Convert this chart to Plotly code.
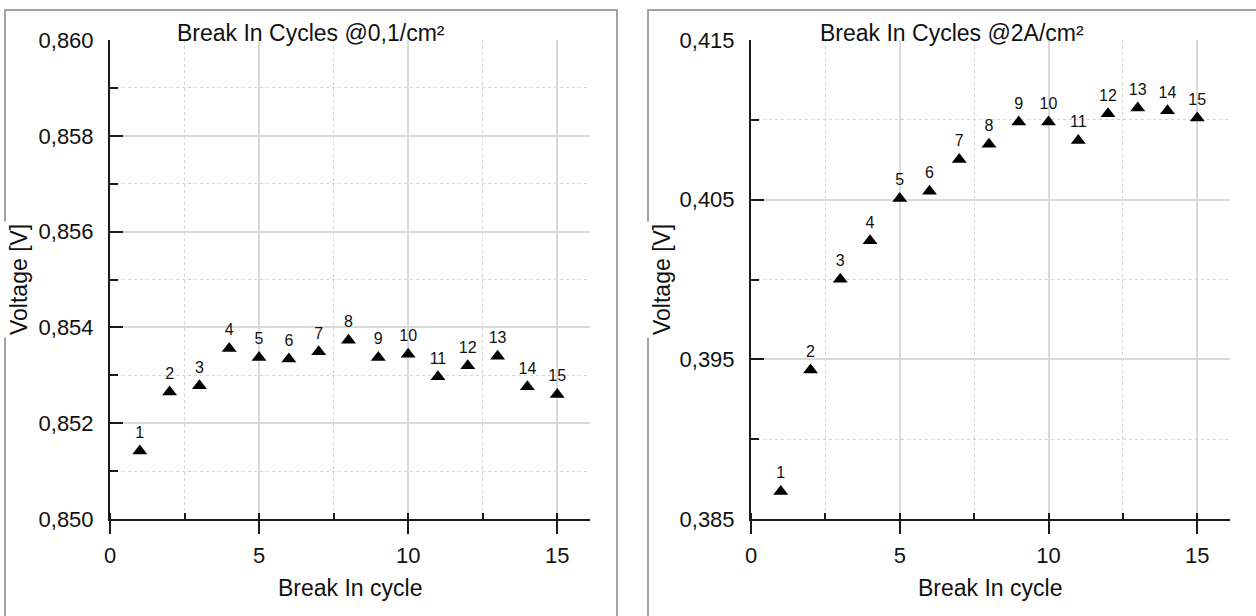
import plotly.graph_objects as go

# Break-in cycle numbers (shared by both panels)
cycles = list(range(1, 16))
cycle_labels = [str(c) for c in cycles]

# Cell voltage at 0.1 A/cm² per break-in cycle
v_low = [0.85142, 0.85265, 0.85278, 0.85356, 0.85337, 0.85334, 0.85349, 0.85373,
         0.85337, 0.85344, 0.85297, 0.85320, 0.85340, 0.85276, 0.85260]

# Cell voltage at 2 A/cm² per break-in cycle
v_high = [0.38673, 0.39433, 0.40002, 0.40242, 0.40508, 0.40553, 0.40752, 0.40847,
          0.40987, 0.40987, 0.40870, 0.41038, 0.41074, 0.41057, 0.41011]

W, H = 1256, 616
FONT = "Liberation Sans, Arial, sans-serif"
INK = "#111111"


def px_x(p):
    return p / W


def px_y(p):
    return 1 - p / H


fig = go.Figure()

for vals, ax in [(v_low, ""), (v_high, "2")]:
    fig.add_trace(go.Scatter(
        x=cycles, y=vals, text=cycle_labels,
        mode="markers+text", textposition="top center",
        textfont=dict(family=FONT, size=16, color=INK),
        marker=dict(symbol="triangle-up", size=13, color="black"),
        xaxis="x" + ax, yaxis="y" + ax, showlegend=False, cliponaxis=False,
    ))

common_x = dict(
    range=[0, 16.1], tick0=0, dtick=5, automargin=False,
    showline=True, linecolor="#1a1a1a", linewidth=2,
    ticks="outside", ticklen=13, tickwidth=2, tickcolor="#1a1a1a",
    showgrid=True, gridcolor="#dadada", gridwidth=2,
    zeroline=False,
    tickfont=dict(family=FONT, size=22, color=INK),
    ticklabelstandoff=3,
    minor=dict(dtick=2.5, tick0=0, ticks="inside", ticklen=6, tickwidth=2, tickcolor="#1a1a1a",
               showgrid=True, gridcolor="#d4d4d4", griddash="dot", gridwidth=1),
    fixedrange=True,
)

common_y = dict(
    automargin=False,
    showline=True, linecolor="#1a1a1a", linewidth=2,
    ticks="inside", ticklen=13, tickwidth=2, tickcolor="#1a1a1a",
    showgrid=True, gridcolor="#dadada", gridwidth=2,
    zeroline=False, tickformat=".3f",
    tickfont=dict(family=FONT, size=22, color=INK),
    ticklabelstandoff=10,
    fixedrange=True,
)

fig.update_layout(
    width=W, height=H,
    margin=dict(l=0, r=0, t=0, b=0),
    paper_bgcolor="white", plot_bgcolor="white",
    separators=", ",
    xaxis=dict(common_x, domain=[px_x(110), px_x(590)], anchor="y"),
    xaxis2=dict(common_x, domain=[px_x(751), px_x(1230)], anchor="y2"),
    yaxis=dict(common_y, domain=[px_y(519), px_y(40)], anchor="x",
               range=[0.850, 0.860], tick0=0.850, dtick=0.002,
               minor=dict(dtick=0.001, tick0=0.850, ticks="inside", ticklen=8, tickwidth=2,
                          tickcolor="#1a1a1a", showgrid=True, gridcolor="#d4d4d4",
                          griddash="dot", gridwidth=1)),
    yaxis2=dict(common_y, domain=[px_y(519), px_y(40)], anchor="x2",
                range=[0.385, 0.415], tick0=0.385, dtick=0.010,
                minor=dict(dtick=0.005, tick0=0.385, ticks="inside", ticklen=8, tickwidth=2,
                           tickcolor="#1a1a1a", showgrid=True, gridcolor="#d4d4d4",
                           griddash="dot", gridwidth=1)),
)

# Panel frames
for x0, x1 in [(5, 617), (648, 1262)]:
    fig.add_shape(type="rect", xref="paper", yref="paper",
                  x0=px_x(x0), x1=px_x(x1), y0=px_y(625), y1=px_y(10),
                  line=dict(color="#a3a3a3", width=2), layer="below")

# Panel titles
for cx, txt in [(311, "Break In Cycles @0,1/cm²"), (952, "Break In Cycles @2A/cm²")]:
    fig.add_annotation(xref="paper", yref="paper", x=px_x(cx), y=px_y(33),
                       text=txt, showarrow=False, xanchor="center", yanchor="middle",
                       font=dict(family=FONT, size=23, color=INK))

# X-axis titles
for cx in [350, 990]:
    fig.add_annotation(xref="paper", yref="paper", x=px_x(cx), y=px_y(588),
                       text="Break In cycle", showarrow=False,
                       xanchor="center", yanchor="middle",
                       font=dict(family=FONT, size=23, color=INK))

# Y-axis titles drawn over the frame edge
for cx in [19, 662]:
    fig.add_annotation(xref="paper", yref="paper", x=px_x(cx), y=px_y(280),
                       text="Voltage [V]", textangle=-90, showarrow=False,
                       xanchor="center", yanchor="middle", bgcolor="white", borderpad=2,
                       font=dict(family=FONT, size=23, color=INK))

fig.write_html("out.html")
